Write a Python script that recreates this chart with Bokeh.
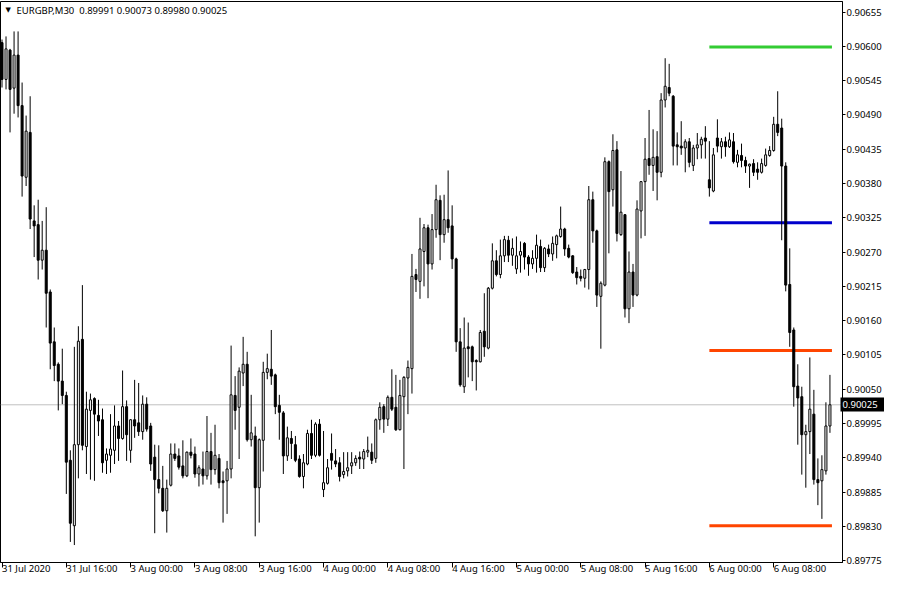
from bokeh.plotting import figure
from bokeh.models import ColumnDataSource, FixedTicker, PrintfTickFormatter, Range1d, Span, Label, LinearAxis
from bokeh.embed import file_html
from bokeh.resources import INLINE

symbol = "EURGBP,M30"

open_ = [0.90606, 0.90547, 0.90594, 0.90533, 0.90586, 0.90505, 0.90390, 0.90462, 0.90320, 0.90314,
         0.90257, 0.90273, 0.90206, 0.90126, 0.90090, 0.90063, 0.90040, 0.89936, 0.89831, 0.89961,
         0.90130, 0.89958, 0.90016, 0.90035, 0.90008, 0.90001, 0.89936, 0.89944, 0.89952, 0.89991,
         0.89971, 0.90022, 0.89952, 0.90001, 0.89996, 0.89982, 0.90026, 0.89991, 0.89941, 0.89905,
         0.89891, 0.89855, 0.89896, 0.89946, 0.89943, 0.89927, 0.89911, 0.89949, 0.89946, 0.89914,
         0.89922, 0.89911, 0.89950, 0.89921, 0.89939, 0.89903, 0.89903, 0.89922, 0.90040, 0.90021,
         0.90076, 0.90090, 0.89969, 0.89975, 0.89892, 0.89968, 0.90077, 0.90082, 0.90073, 0.90024,
         0.90012, 0.89943, 0.89971, 0.89961, 0.89938, 0.89910, 0.89930, 0.89979, 0.89944, 0.89994,
         0.89889, 0.89899, 0.89947, 0.89935, 0.89932, 0.89913, 0.89919, 0.89927, 0.89932, 0.89941,
         0.89938, 0.89949, 0.89949, 0.89939, 0.90001, 0.90022, 0.90002, 0.90037, 0.90021, 0.89985,
         0.90038, 0.90068, 0.90083, 0.90234, 0.90223, 0.90271, 0.90309, 0.90251, 0.90306, 0.90353,
         0.90298, 0.90322, 0.90312, 0.90259, 0.90126, 0.90054, 0.90118, 0.90118, 0.90096, 0.90094,
         0.90143, 0.90116, 0.90212, 0.90256, 0.90234, 0.90264, 0.90289, 0.90265, 0.90243, 0.90265,
         0.90284, 0.90262, 0.90251, 0.90260, 0.90279, 0.90245, 0.90275, 0.90267, 0.90282, 0.90295,
         0.90307, 0.90276, 0.90264, 0.90238, 0.90231, 0.90228, 0.90242, 0.90354, 0.90304, 0.90199,
         0.90217, 0.90415, 0.90370, 0.90434, 0.90298, 0.90330, 0.90179, 0.90238, 0.90201, 0.90336,
         0.90383, 0.90420, 0.90409, 0.90423, 0.90398, 0.90514, 0.90534, 0.90520, 0.90442, 0.90440,
         0.90437, 0.90447, 0.90409, 0.90437, 0.90442, 0.90453, 0.90386, 0.90368, 0.90453, 0.90439,
         0.90447, 0.90439, 0.90447, 0.90414, 0.90425, 0.90417, 0.90408, 0.90412, 0.90403, 0.90398,
         0.90409, 0.90425, 0.90433, 0.90475, 0.90469, 0.90408, 0.90218, 0.90145, 0.90055, 0.90038,
         0.89977, 0.89982, 0.90010, 0.89905, 0.89903, 0.89919, 0.89991]

high_ = [0.90611, 0.90616, 0.90596, 0.90624, 0.90624, 0.90542, 0.90489, 0.90520, 0.90345, 0.90354,
         0.90320, 0.90342, 0.90210, 0.90149, 0.90093, 0.90115, 0.90046, 0.89952, 0.90118, 0.90151,
         0.90217, 0.90046, 0.90043, 0.90037, 0.90033, 0.90019, 0.89955, 0.90010, 0.90024, 0.89999,
         0.90080, 0.90032, 0.90002, 0.90065, 0.90060, 0.90040, 0.90037, 0.89996, 0.89961, 0.89960,
         0.89927, 0.89905, 0.89963, 0.89963, 0.89955, 0.89968, 0.89950, 0.89971, 0.89958, 0.89928,
         0.89950, 0.90007, 0.89980, 0.89993, 0.89946, 0.89918, 0.89935, 0.90120, 0.90071, 0.90085,
         0.90134, 0.90110, 0.90041, 0.89990, 0.89971, 0.90094, 0.90107, 0.90145, 0.90075, 0.90041,
         0.90015, 0.89990, 0.89983, 0.89975, 0.89944, 0.89946, 0.89985, 0.90001, 0.89997, 0.90002,
         0.89983, 0.89938, 0.89979, 0.89954, 0.89941, 0.89949, 0.89949, 0.89949, 0.89944, 0.89950,
         0.89954, 0.89974, 0.89963, 0.90003, 0.90029, 0.90026, 0.90040, 0.90082, 0.90073, 0.90065,
         0.90071, 0.90096, 0.90267, 0.90243, 0.90325, 0.90315, 0.90314, 0.90331, 0.90378, 0.90361,
         0.90362, 0.90401, 0.90345, 0.90261, 0.90148, 0.90165, 0.90157, 0.90120, 0.90098, 0.90145,
         0.90204, 0.90214, 0.90284, 0.90273, 0.90290, 0.90296, 0.90296, 0.90292, 0.90295, 0.90287,
         0.90286, 0.90265, 0.90273, 0.90298, 0.90290, 0.90278, 0.90282, 0.90295, 0.90298, 0.90343,
         0.90309, 0.90282, 0.90265, 0.90246, 0.90242, 0.90243, 0.90376, 0.90367, 0.90306, 0.90223,
         0.90422, 0.90417, 0.90459, 0.90448, 0.90400, 0.90331, 0.90271, 0.90251, 0.90353, 0.90384,
         0.90453, 0.90498, 0.90467, 0.90464, 0.90525, 0.90581, 0.90572, 0.90522, 0.90462, 0.90480,
         0.90451, 0.90453, 0.90442, 0.90461, 0.90455, 0.90472, 0.90448, 0.90437, 0.90483, 0.90453,
         0.90455, 0.90462, 0.90461, 0.90434, 0.90444, 0.90423, 0.90412, 0.90419, 0.90414, 0.90420,
         0.90436, 0.90440, 0.90487, 0.90528, 0.90484, 0.90414, 0.90276, 0.90149, 0.90090, 0.90054,
         0.89993, 0.90101, 0.90049, 0.89939, 0.89944, 0.90029, 0.90073]

low_ = [0.90534, 0.90531, 0.90462, 0.90492, 0.90486, 0.90359, 0.90376, 0.90307, 0.90262, 0.90226,
        0.90242, 0.90149, 0.90082, 0.90063, 0.90016, 0.90026, 0.89882, 0.89805, 0.89800, 0.89907,
        0.89952, 0.89914, 0.89905, 0.89903, 0.89975, 0.89916, 0.89914, 0.89916, 0.89930, 0.89935,
        0.89969, 0.89935, 0.89932, 0.89972, 0.89975, 0.89969, 0.89982, 0.89919, 0.89819, 0.89883,
        0.89853, 0.89820, 0.89894, 0.89935, 0.89921, 0.89907, 0.89909, 0.89939, 0.89908, 0.89894,
        0.89897, 0.89905, 0.89897, 0.89913, 0.89891, 0.89836, 0.89850, 0.89907, 0.89985, 0.89938,
        0.90055, 0.89966, 0.89958, 0.89814, 0.89836, 0.89918, 0.90066, 0.90057, 0.90010, 0.89969,
        0.89914, 0.89935, 0.89938, 0.89933, 0.89908, 0.89891, 0.89928, 0.89938, 0.89941, 0.89942,
        0.89877, 0.89897, 0.89921, 0.89925, 0.89902, 0.89907, 0.89910, 0.89914, 0.89927, 0.89922,
        0.89922, 0.89941, 0.89930, 0.89932, 0.89985, 0.89980, 0.89991, 0.90015, 0.89983, 0.89984,
        0.89922, 0.90010, 0.90043, 0.90206, 0.90195, 0.90215, 0.90196, 0.90242, 0.90293, 0.90257,
        0.90285, 0.90301, 0.90243, 0.90110, 0.90054, 0.90044, 0.90069, 0.90063, 0.90048, 0.90093,
        0.90102, 0.90114, 0.90210, 0.90231, 0.90228, 0.90254, 0.90254, 0.90248, 0.90235, 0.90237,
        0.90242, 0.90232, 0.90243, 0.90237, 0.90238, 0.90238, 0.90262, 0.90256, 0.90260, 0.90293,
        0.90264, 0.90260, 0.90235, 0.90218, 0.90223, 0.90213, 0.90210, 0.90285, 0.90182, 0.90115,
        0.90215, 0.90268, 0.90343, 0.90287, 0.90296, 0.90165, 0.90156, 0.90182, 0.90199, 0.90292,
        0.90296, 0.90394, 0.90368, 0.90353, 0.90390, 0.90502, 0.90520, 0.90409, 0.90409, 0.90426,
        0.90398, 0.90406, 0.90400, 0.90419, 0.90420, 0.90420, 0.90359, 0.90366, 0.90430, 0.90420,
        0.90423, 0.90437, 0.90412, 0.90406, 0.90406, 0.90397, 0.90373, 0.90392, 0.90386, 0.90396,
        0.90407, 0.90423, 0.90431, 0.90456, 0.90289, 0.90207, 0.90118, 0.90022, 0.89961, 0.89913,
        0.89892, 0.89946, 0.89897, 0.89864, 0.89842, 0.89913, 0.89980]

close_ = [0.90547, 0.90596, 0.90531, 0.90586, 0.90505, 0.90392, 0.90464, 0.90323, 0.90312, 0.90257,
          0.90273, 0.90204, 0.90124, 0.90088, 0.90063, 0.90040, 0.89933, 0.89835, 0.89961, 0.90127,
          0.89960, 0.90018, 0.90033, 0.90010, 0.89999, 0.89932, 0.89946, 0.89954, 0.89991, 0.89971,
          0.90022, 0.89977, 0.90001, 0.89991, 0.89982, 0.90026, 0.89986, 0.89930, 0.89905, 0.89891,
          0.89855, 0.89891, 0.89946, 0.89939, 0.89925, 0.89911, 0.89949, 0.89944, 0.89914, 0.89924,
          0.89911, 0.89950, 0.89921, 0.89944, 0.89900, 0.89900, 0.89922, 0.90041, 0.90016, 0.90079,
          0.90090, 0.89969, 0.89980, 0.89892, 0.89969, 0.90077, 0.90083, 0.90071, 0.90022, 0.90013,
          0.89943, 0.89972, 0.89963, 0.89936, 0.89910, 0.89932, 0.89979, 0.89944, 0.89994, 0.89944,
          0.89900, 0.89924, 0.89936, 0.89930, 0.89910, 0.89918, 0.89924, 0.89932, 0.89939, 0.89938,
          0.89950, 0.89952, 0.89936, 0.90001, 0.90021, 0.90002, 0.90037, 0.90018, 0.89985, 0.90040,
          0.90069, 0.90085, 0.90231, 0.90226, 0.90275, 0.90309, 0.90251, 0.90306, 0.90354, 0.90298,
          0.90322, 0.90309, 0.90259, 0.90126, 0.90057, 0.90116, 0.90115, 0.90094, 0.90094, 0.90141,
          0.90118, 0.90212, 0.90256, 0.90234, 0.90264, 0.90290, 0.90265, 0.90276, 0.90264, 0.90271,
          0.90262, 0.90251, 0.90260, 0.90281, 0.90245, 0.90276, 0.90267, 0.90284, 0.90296, 0.90307,
          0.90275, 0.90262, 0.90237, 0.90229, 0.90228, 0.90242, 0.90354, 0.90304, 0.90201, 0.90220,
          0.90415, 0.90367, 0.90433, 0.90300, 0.90334, 0.90179, 0.90238, 0.90201, 0.90339, 0.90383,
          0.90419, 0.90409, 0.90422, 0.90398, 0.90514, 0.90536, 0.90525, 0.90440, 0.90439, 0.90437,
          0.90447, 0.90414, 0.90437, 0.90442, 0.90451, 0.90448, 0.90373, 0.90426, 0.90440, 0.90447,
          0.90439, 0.90450, 0.90415, 0.90426, 0.90417, 0.90408, 0.90411, 0.90398, 0.90398, 0.90412,
          0.90426, 0.90433, 0.90475, 0.90462, 0.90408, 0.90217, 0.90141, 0.90054, 0.90036, 0.89977,
          0.89982, 0.90018, 0.89905, 0.89900, 0.89921, 0.89991, 0.90025]

time_ticks = [0, 16, 32, 48, 64, 80, 96, 112, 128, 144, 160, 176, 192]
time_labels = ["31 Jul 2020", "31 Jul 16:00", "3 Aug 00:00", "3 Aug 08:00", "3 Aug 16:00",
               "4 Aug 00:00", "4 Aug 08:00", "4 Aug 16:00", "5 Aug 00:00", "5 Aug 08:00",
               "5 Aug 16:00", "6 Aug 00:00", "6 Aug 08:00"]

price_ticks = [0.90655, 0.90600, 0.90545, 0.90490, 0.90435, 0.90380, 0.90325, 0.90270, 0.90215,
               0.90160, 0.90105, 0.90050, 0.89995, 0.89940, 0.89885, 0.89830, 0.89775]

level_prices = [0.90599, 0.90317, 0.90112, 0.89831]
level_colors = ["#33CC33", "#0000CC", "#FF4500", "#FF4500"]
level_from_bar = 176   # 6 Aug 00:00

FONT = "Noto Sans"
FSIZE = "9.5px"
FIG_W, FIG_H = 884, 584
AXIS_W = 46            # width taken by the price axis (ticks + labels), in px
BAR_PX = 4             # horizontal pixels per 30-minute bar

n = len(open_)
idx = list(range(n))
bid = close_[-1]

up_i = [i for i in idx if close_[i] >= open_[i]]
dn_i = [i for i in idx if close_[i] < open_[i]]

src_up = ColumnDataSource(dict(x=up_i, top=[close_[i] for i in up_i], bottom=[open_[i] for i in up_i]))
src_dn = ColumnDataSource(dict(x=dn_i, top=[open_[i] for i in dn_i], bottom=[close_[i] for i in dn_i]))
src_wick = ColumnDataSource(dict(x=idx, low=low_, high=high_))

x_start = -0.375
x_end = x_start + (FIG_W - AXIS_W) / BAR_PX
y_start, y_end = 0.89772, 0.90672

p = figure(width=FIG_W, height=FIG_H, output_backend="svg", toolbar_location=None,
           x_range=Range1d(x_start, x_end), y_range=Range1d(y_start, y_end),
           y_axis_location="right",
           min_border_left=0, min_border_top=1, min_border_bottom=0, min_border_right=0)
p.background_fill_color = "white"
p.border_fill_color = "white"
p.outline_line_color = "black"
p.outline_line_width = 1
p.grid.visible = False

# right price axis
ya = p.yaxis[0]
ya.ticker = FixedTicker(ticks=price_ticks)
ya.formatter = PrintfTickFormatter(format="%.5f")
ya.major_tick_out = 3
ya.major_tick_in = 0
ya.minor_tick_line_color = None
ya.major_label_standoff = 1
ya.axis_line_color = "black"
ya.major_tick_line_color = "black"
ya.major_label_text_font = FONT
ya.major_label_text_font_size = FSIZE
ya.major_label_text_color = "black"

# current price marker: an extra axis whose single tick is drawn as a black box
# reaching back over the price-axis column, with its label in white on top
bid_axis = LinearAxis(ticker=FixedTicker(ticks=[bid]), formatter=PrintfTickFormatter(format="%.5f"),
                      axis_line_color=None,
                      major_tick_in=AXIS_W - 2, major_tick_out=0,
                      major_tick_line_width=14, major_tick_line_color="black",
                      minor_tick_in=0, minor_tick_out=0, minor_tick_line_color=None,
                      major_label_standoff=4 - AXIS_W,
                      major_label_text_color="white", major_label_text_font=FONT,
                      major_label_text_font_size=FSIZE)
p.add_layout(bid_axis, "right")

# bottom time axis; a tiny negative orientation makes the labels start at their ticks
xa = p.xaxis[0]
xa.ticker = FixedTicker(ticks=time_ticks)
xa.major_label_overrides = {t: lab for t, lab in zip(time_ticks, time_labels)}
xa.major_label_orientation = -0.0001
xa.major_tick_out = 5
xa.major_tick_in = 0
xa.minor_tick_line_color = None
xa.axis_line_color = "black"
xa.major_tick_line_color = "black"
xa.major_label_standoff = 1
xa.major_label_text_font = FONT
xa.major_label_text_font_size = FSIZE
xa.major_label_text_color = "black"

# bid line
p.add_layout(Span(location=bid, dimension="width", line_color="#C0C0C0", line_width=1, level="underlay"))

# level lines
p.segment(x0=[level_from_bar] * len(level_prices), x1=[n - 0.5] * len(level_prices),
          y0=level_prices, y1=level_prices, line_color=level_colors, line_width=3)

# candles
p.segment(x0="x", x1="x", y0="low", y1="high", source=src_wick, line_color="black", line_width=1)
p.vbar(x="x", top="top", bottom="bottom", width=0.5, source=src_dn,
       fill_color="black", line_color="black", line_width=1)
p.vbar(x="x", top="top", bottom="bottom", width=0.5, source=src_up,
       fill_color="white", line_color="black", line_width=1)

# title
title_text = "%s\u00a0\u00a0%.5f %.5f %.5f %.5f" % (symbol, open_[-1], high_[-1], low_[-1], close_[-1])
y_title = y_end - (y_end - y_start) * 9.0 / 563.0
p.add_layout(Label(x=5, y=y_title, x_units="screen", y_units="data", text="\u25bc",
                   text_align="left", text_baseline="middle", text_font="DejaVu Sans",
                   text_font_size="7px", text_color="black"))
p.add_layout(Label(x=16, y=y_title, x_units="screen", y_units="data", text=title_text,
                   text_align="left", text_baseline="middle", text_font=FONT,
                   text_font_size=FSIZE, text_color="black"))

open("out.html", "w").write(file_html(p, INLINE))
